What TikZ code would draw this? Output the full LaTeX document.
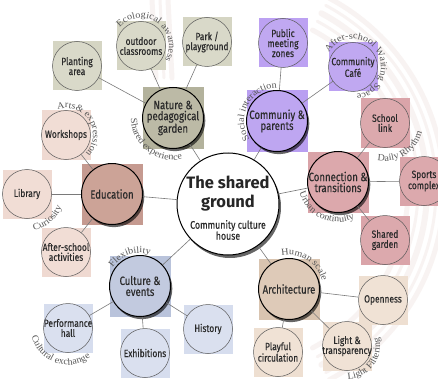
\documentclass[tikz,border=0pt]{standalone}
\usepackage{fontspec}
\setmainfont{Liberation Serif}
\newfontfamily\nodefont[FakeStretch=0.8,FakeBold=0.35]{Fira Sans}
\newfontfamily\titlefont{Fira Sans}
\newfontfamily\lblfont[FakeStretch=1.08]{Liberation Serif}
\usetikzlibrary{shadows,decorations.text,calc}
\definecolor{natsq}{HTML}{B3B29C}\definecolor{natc}{HTML}{BCBAA6}
\definecolor{natsqb}{HTML}{D5D5C3}\definecolor{natcb}{HTML}{D9D9C9}
\definecolor{comsq}{HTML}{B99FF1}\definecolor{comc}{HTML}{BEA6F1}
\definecolor{comsqb}{HTML}{BCA1F2}\definecolor{comcb}{HTML}{C0A8F1}
\definecolor{consq}{HTML}{D9A3A8}\definecolor{conc}{HTML}{DCA8AC}
\definecolor{consqb}{HTML}{DAA4A9}\definecolor{concb}{HTML}{DCA9AD}
\definecolor{edusq}{HTML}{C59A90}\definecolor{educ}{HTML}{CCA397}
\definecolor{edusqb}{HTML}{EFD9D1}\definecolor{educb}{HTML}{F1DDD5}
\definecolor{culsq}{HTML}{B9C3DB}\definecolor{culc}{HTML}{C2CADF}
\definecolor{culsqb}{HTML}{D6DDEE}\definecolor{culcb}{HTML}{DAE0EF}
\definecolor{arcsq}{HTML}{D9C4B0}\definecolor{arcc}{HTML}{DECAB8}
\definecolor{arcsqb}{HTML}{EEDFD1}\definecolor{arccb}{HTML}{F0E2D5}
\definecolor{lblgray}{HTML}{585858}
\definecolor{linkgray}{HTML}{7A7A7A}
\definecolor{txtdark}{HTML}{2B2B2B}
\definecolor{brush}{HTML}{F1E6E3}
\newcommand\lblsize{\lblfont\fontsize{9.4}{9.4}\selectfont}
\newcommand\cwlabel[4]{\path[decorate,decoration={text along path,text={|\lblsize|#4},text align=center,text color=lblgray}] ($(#1)+({#3+150}:#2)$) arc[start angle={#3+150},end angle={#3-150},radius=#2];}
\newcommand\ccwlabel[4]{\path[decorate,decoration={text along path,text={|\lblsize|#4},text align=center,text color=lblgray}] ($(#1)+({#3-150}:#2)$) arc[start angle={#3-150},end angle={#3+150},radius=#2];}
\begin{document}
\begin{tikzpicture}[x=1pt,y=1pt,
  msq/.style={rectangle,minimum size=61pt,inner sep=0pt,draw=none},
  ssq/.style={rectangle,minimum size=49pt,inner sep=0pt,draw=none},
  mcirc/.style={circle,minimum size=61pt,inner sep=0pt,draw=black,line width=1pt,
     drop shadow={shadow xshift=1.8pt,shadow yshift=-2.6pt,opacity=0.6,fill=black}},
  scirc/.style={circle,minimum size=49pt,inner sep=0pt,draw=black!65,line width=0.5pt},
  mtxt/.style={inner sep=0pt,align=center,text=txtdark,font=\nodefont\fontsize{12}{11}\selectfont},
  stxt/.style={inner sep=0pt,align=center,text=txtdark,font=\nodefont\fontsize{10.5}{10}\selectfont},
  link/.style={draw=linkgray,line width=0.6pt},
  brushstroke/.style={draw=brush,line cap=round,opacity=0.45}]
\useasboundingbox (0,0) rectangle (438,378);
\fill[white] (0,0) rectangle (438,378);
% faint background brush strokes
\foreach \r/\w in {180/5,190/3,199/6,208/3,216/5}{
  \draw[brushstroke,line width=\w pt] (228,189) ++(-62:\r) arc[start angle=-62,end angle=62,radius=\r];}
\foreach \x/\w in {152/5,160/3,168/5}{
  \draw[brushstroke,line width=\w pt] (\x,378) -- (\x+4,300);}
% squares
\node[msq,fill=natsq] (nat-sq) at (173,260) {};
\node[msq,fill=comsq] (com-sq) at (277,257) {};
\node[msq,fill=consq] (con-sq) at (338,196) {};
\node[msq,fill=edusq] (edu-sq) at (112,184) {};
\node[msq,fill=culsq] (cul-sq) at (140,92) {};
\node[msq,fill=arcsq] (arch-sq) at (289,89) {};
\node[ssq,fill=natsqb] (plant-sq) at (77,312) {};
\node[ssq,fill=natsqb] (outd-sq) at (141,332) {};
\node[ssq,fill=natsqb] (park-sq) at (207,336) {};
\node[ssq,fill=edusqb] (work-sq) at (66,243) {};
\node[ssq,fill=edusqb] (lib-sq) at (27,184) {};
\node[ssq,fill=edusqb] (after-sq) at (66,126) {};
\node[ssq,fill=culsqb] (perf-sq) at (68,50) {};
\node[ssq,fill=culsqb] (exh-sq) at (145,25) {};
\node[ssq,fill=culsqb] (hist-sq) at (208,49) {};
\node[ssq,fill=comsqb] (pub-sq) at (283,335) {};
\node[ssq,fill=comsqb] (cafe-sq) at (353,311) {};
\node[ssq,fill=consqb] (school-sq) at (385,255) {};
\node[ssq,fill=consqb] (sports-sq) at (424,197) {};
\node[ssq,fill=consqb] (sgard-sq) at (385,138) {};
\node[ssq,fill=arcsqb] (open-sq) at (383,78) {};
\node[ssq,fill=arcsqb] (light-sq) at (347,32) {};
\node[ssq,fill=arcsqb] (play-sq) at (278,26) {};
% circles
\node[circle,minimum size=102pt,inner sep=0pt,fill=white,draw=black,line width=1pt,
  drop shadow={shadow xshift=2pt,shadow yshift=-3pt,opacity=0.6,fill=black}] (ctr) at (228,174) {};
\node[mcirc,fill=natc] (nat) at (173,260) {};
\node[mcirc,fill=comc] (com) at (277,257) {};
\node[mcirc,fill=conc] (con) at (338,196) {};
\node[mcirc,fill=educ] (edu) at (112,184) {};
\node[mcirc,fill=culc] (cul) at (140,92) {};
\node[mcirc,fill=arcc] (arch) at (289,89) {};
\node[scirc,fill=natcb] (plant) at (77,312) {};
\node[scirc,fill=natcb] (outd) at (141,332) {};
\node[scirc,fill=natcb] (park) at (207,336) {};
\node[scirc,fill=educb] (work) at (66,243) {};
\node[scirc,fill=educb] (lib) at (27,184) {};
\node[scirc,fill=educb] (after) at (66,126) {};
\node[scirc,fill=culcb] (perf) at (68,50) {};
\node[scirc,fill=culcb] (exh) at (145,25) {};
\node[scirc,fill=culcb] (hist) at (208,49) {};
\node[scirc,fill=comcb] (pub) at (283,335) {};
\node[scirc,fill=comcb] (cafe) at (353,311) {};
\node[scirc,fill=concb] (school) at (385,255) {};
\node[scirc,fill=concb] (sports) at (424,197) {};
\node[scirc,fill=concb] (sgard) at (385,138) {};
\node[scirc,fill=arccb] (open) at (383,78) {};
\node[scirc,fill=arccb] (light) at (347,32) {};
\node[scirc,fill=arccb] (play) at (278,26) {};
% connectors
\foreach \m in {nat,com,con,edu,cul,arch}{\draw[link] (ctr) -- (\m);}
\foreach \s in {plant,outd,park}{\draw[link] (nat) -- (\s);}
\foreach \s in {pub,cafe}{\draw[link] (com) -- (\s);}
\foreach \s in {school,sports,sgard}{\draw[link] (con) -- (\s);}
\foreach \s in {work,lib,after}{\draw[link] (edu) -- (\s);}
\foreach \s in {perf,exh,hist}{\draw[link] (cul) -- (\s);}
\foreach \s in {open,light,play}{\draw[link] (arch) -- (\s);}
% texts
\node[inner sep=0pt,align=center,text=black!85,font=\titlefont\bfseries\fontsize{16.5}{19}\selectfont] (ctr-t) at ($(ctr)+(0,10)$) {The shared\\ground};
\node[inner sep=0pt,align=center,text=txtdark,font=\nodefont\fontsize{11}{11}\selectfont] (ctr-s) at ($(ctr)+(0,-26)$) {Community culture\\house};
\node[mtxt] (nat-t) at (nat) {Nature \&\\pedagogical\\garden};
\node[mtxt] (com-t) at (com) {Communiy \&\\parents};
\node[mtxt] (con-t) at (con) {Connection \&\\transitions};
\node[mtxt] (edu-t) at (edu) {Education};
\node[mtxt] (cul-t) at (cul) {Culture \&\\events};
\node[mtxt] (arch-t) at (arch) {Architecture};
\node[stxt] (plant-t) at (plant) {Planting\\area};
\node[stxt] (outd-t) at (outd) {outdoor\\classrooms};
\node[stxt] (park-t) at (park) {Park /\\playground};
\node[stxt] (work-t) at (work) {Workshops};
\node[stxt] (lib-t) at (lib) {Library};
\node[stxt] (after-t) at (after) {After-school\\activities};
\node[stxt] (perf-t) at (perf) {Performance\\hall};
\node[stxt] (exh-t) at (exh) {Exhibitions};
\node[stxt] (hist-t) at (hist) {History};
\node[stxt] (pub-t) at (pub) {Public\\meeting\\zones};
\node[stxt] (cafe-t) at (cafe) {Community\\Café};
\node[stxt] (school-t) at (school) {School\\link};
\node[stxt] (sports-t) at (sports) {Sports\\complex};
\node[stxt] (sgard-t) at (sgard) {Shared\\garden};
\node[stxt] (open-t) at (open) {Openness};
\node[stxt] (light-t) at (light) {Light \&\\transparency};
\node[stxt] (play-t) at (play) {Playful\\circulation};
% curved labels
\cwlabel{outd}{28}{54}{Ecological awarness}
\cwlabel{work}{27}{32}{Arts{\&} expression}
\ccwlabel{nat}{42}{232}{Shared experience}
\cwlabel{com}{33}{152}{Social interaction}
\cwlabel{cafe}{28}{33}{After-school Waiting Space}
\ccwlabel{school}{38}{302}{Daily Rhythm}
\ccwlabel{con}{40}{245}{Urban continuity}
\ccwlabel{lib}{37}{310}{Curiosity}
\cwlabel{cul}{33}{109}{Flexibility}
\ccwlabel{perf}{37}{250}{Cultural exchange}
\cwlabel{arch}{34}{58}{Human scale}
\ccwlabel{light}{33}{323}{Light Filtering}
\end{tikzpicture}
\end{document}
